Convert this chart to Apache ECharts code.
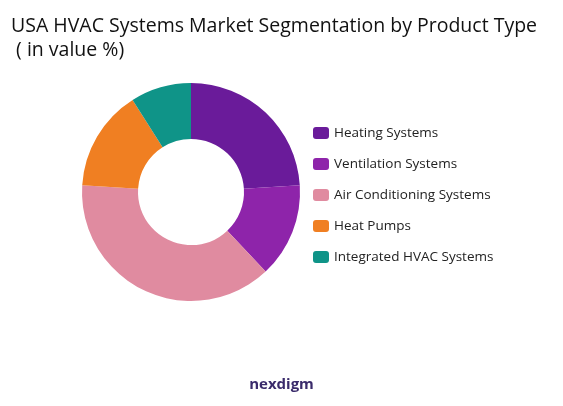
<!DOCTYPE html>
<html><head><meta charset="utf-8">
<script src="https://cdn.jsdelivr.net/npm/echarts@6/dist/echarts.min.js"></script>
<style>html,body{margin:0;padding:0;background:#fff}#c{width:563px;height:406px}</style>
</head><body><div id="c"></div>
<script>
const categories = ["Heating Systems","Ventilation Systems","Air Conditioning Systems","Heat Pumps","Integrated HVAC Systems"];
const values = [24,14,38,15,9];
const colors = ["#6A1B9A","#8E24AA","#E08BA0","#F07F22","#0F9488"];
const chart = echarts.init(document.getElementById('c'));
chart.setOption({
  animation:false,
  title:{text:"USA HVAC Systems Market Segmentation by Product Type\n ( in value %)",left:6,top:9,
    textStyle:{fontFamily:"Open Sans",fontSize:19.5,fontWeight:"normal",color:"#111",lineHeight:24}},
  legend:{orient:"vertical",left:308,top:121,itemWidth:16,itemHeight:12,itemGap:17,
    textStyle:{fontFamily:"Open Sans",fontSize:13.5,color:"#222"},data:categories},
  graphic:[{type:"text",left:"center",top:377,style:{text:"nexdigm",font:"bold 15px Open Sans",fill:"#3a2b6b"}}],
  series:[{type:"pie",center:[191,192],radius:[53,109],startAngle:90,clockwise:true,
    label:{show:false},labelLine:{show:false},
    data:categories.map((n,i)=>({name:n,value:values[i],itemStyle:{color:colors[i]}}))}]
});
</script></body></html>
